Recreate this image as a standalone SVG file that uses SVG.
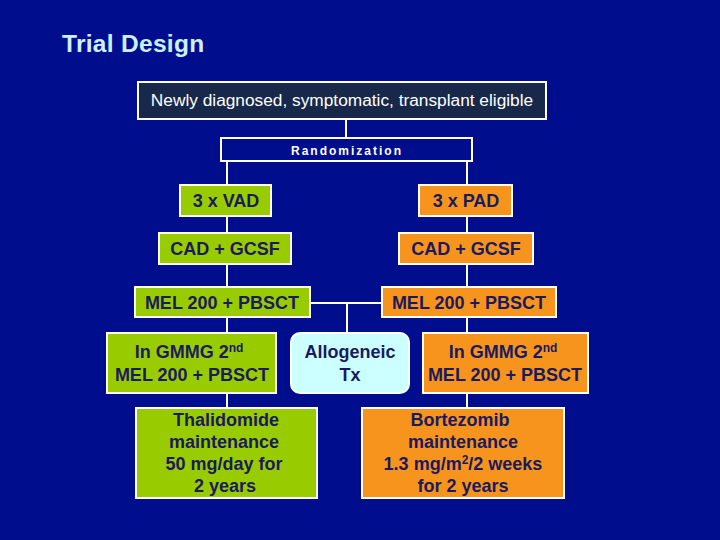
<svg xmlns="http://www.w3.org/2000/svg" width="720" height="540" viewBox="0 0 720 540">
<style>
.bx{stroke:#ffffff;stroke-width:2}
.g{fill:#99cc00}
.o{fill:#f7941d}
.t{font-family:"Liberation Sans",Arial,sans-serif;font-weight:bold;font-size:18px;fill:#1a1a60;text-anchor:middle}
.ln{stroke:#ffffff;stroke-width:2;fill:none}
</style>
<rect x="0" y="0" width="720" height="540" fill="#000e8e"/>
<text x="62" y="52" font-family="Liberation Sans,Arial,sans-serif" font-weight="bold" font-size="24.5" letter-spacing="0.3" fill="#ccf0ff">Trial Design</text>
<g id="connectors">
<line class="ln" x1="346" y1="119" x2="346" y2="138"/>
<line class="ln" x1="227" y1="161" x2="227" y2="185"/>
<line class="ln" x1="467" y1="161" x2="467" y2="185"/>
<line class="ln" x1="227" y1="216" x2="227" y2="233"/>
<line class="ln" x1="467" y1="216" x2="467" y2="233"/>
<line class="ln" x1="227" y1="264" x2="227" y2="287"/>
<line class="ln" x1="467" y1="264" x2="467" y2="287"/>
<line class="ln" x1="310" y1="303" x2="382" y2="303"/>
<line class="ln" x1="347" y1="303" x2="347" y2="333"/>
<line class="ln" x1="227" y1="317" x2="227" y2="333"/>
<line class="ln" x1="467" y1="317" x2="467" y2="333"/>
<line class="ln" x1="227" y1="393" x2="227" y2="408"/>
<line class="ln" x1="467" y1="393" x2="467" y2="408"/>
</g>
<g id="n-top">
<rect class="bx" x="138" y="82" width="408" height="37" fill="#17284a"/>
<text x="342" y="106" font-family="Liberation Sans,Arial,sans-serif" font-size="17.3" fill="#ffffff" text-anchor="middle">Newly diagnosed, symptomatic, transplant eligible</text>
</g>
<g id="n-rand">
<rect class="bx" x="221" y="138" width="251" height="23" fill="#000e8e"/>
<text x="347" y="155" font-family="Liberation Sans,Arial,sans-serif" font-weight="bold" font-size="12" letter-spacing="2" fill="#ffffff" text-anchor="middle">Randomization</text>
</g>
<g id="n-vad">
<rect class="bx g" x="180" y="185" width="91" height="31"/>
<text class="t" x="226" y="207">3 x VAD</text>
</g>
<g id="n-pad">
<rect class="bx o" x="419" y="185" width="93" height="31"/>
<text class="t" x="466" y="207">3 x PAD</text>
</g>
<g id="n-cad-l">
<rect class="bx g" x="159" y="233" width="132" height="31"/>
<text class="t" x="225" y="255">CAD + GCSF</text>
</g>
<g id="n-cad-r">
<rect class="bx o" x="399" y="233" width="134" height="31"/>
<text class="t" x="466" y="255">CAD + GCSF</text>
</g>
<g id="n-mel-l">
<rect class="bx g" x="135" y="287" width="175" height="30"/>
<text class="t" x="222" y="309">MEL 200 + PBSCT</text>
</g>
<g id="n-mel-r">
<rect class="bx o" x="382" y="287" width="174" height="30"/>
<text class="t" x="469" y="309">MEL 200 + PBSCT</text>
</g>
<g id="n-gmmg-l">
<rect class="bx g" x="107" y="333" width="169" height="60"/>
<text class="t" x="189" y="358">In GMMG 2<tspan font-size="12" dy="-6">nd</tspan></text>
<text class="t" x="192" y="381">MEL 200 + PBSCT</text>
</g>
<g id="n-allo">
<rect class="bx" x="291" y="333" width="118" height="60" rx="9" fill="#ccffff"/>
<text class="t" x="350" y="358">Allogeneic</text>
<text class="t" x="350" y="381">Tx</text>
</g>
<g id="n-gmmg-r">
<rect class="bx o" x="423" y="333" width="165" height="60"/>
<text class="t" x="503" y="358">In GMMG 2<tspan font-size="12" dy="-6">nd</tspan></text>
<text class="t" x="505" y="381">MEL 200 + PBSCT</text>
</g>
<g id="n-thal">
<rect class="bx g" x="136" y="408" width="181" height="90"/>
<text class="t" x="226" y="426">Thalidomide</text>
<text class="t" x="224" y="448">maintenance</text>
<text class="t" x="224" y="470">50 mg/day for</text>
<text class="t" x="225" y="492">2 years</text>
</g>
<g id="n-bort">
<rect class="bx o" x="362" y="408" width="202" height="90"/>
<text class="t" x="460" y="426">Bortezomib</text>
<text class="t" x="463" y="448">maintenance</text>
<text class="t" x="463" y="470">1.3 mg/m<tspan font-size="12" dy="-6">2</tspan><tspan dy="6">/2 weeks</tspan></text>
<text class="t" x="463" y="492">for 2 years</text>
</g>
</svg>
